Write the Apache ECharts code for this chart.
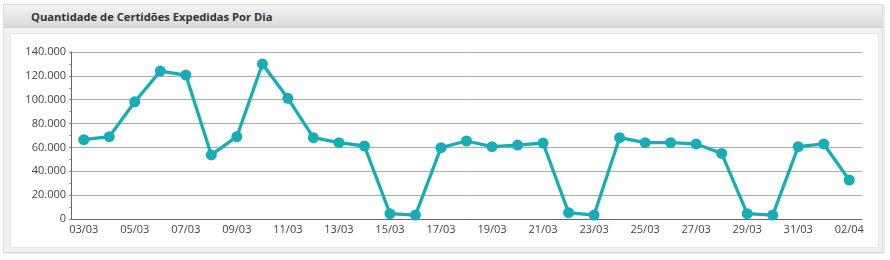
<!DOCTYPE html>
<html><head><meta charset="utf-8">
<script src="https://cdn.jsdelivr.net/npm/echarts@6/dist/echarts.min.js"></script>
<style>
html,body{margin:0;padding:0;background:#fff;}
#wrap{position:relative;width:890px;height:260px;overflow:hidden;background:#fff;}
#panel{position:absolute;left:3px;top:4px;width:880px;height:249px;background:#f1f1f1;border:1px solid #dcdcdc;box-sizing:border-box;box-shadow:2px 1px 0 #ececec;}
#header{position:absolute;left:4px;top:5px;width:878px;height:22px;background:linear-gradient(#f4f4f4,#d9d9d9);border-bottom:1px solid #d0d0d0;}
#title{position:absolute;left:31px;top:9px;font:bold 11.2px "Open Sans",sans-serif;color:#333;}
#inner{position:absolute;left:10px;top:33px;width:869px;height:215px;background:#fff;border:1px solid #e6e6e6;box-sizing:border-box;}
#chart{position:absolute;left:0;top:0;width:890px;height:260px;}
</style></head>
<body><div id="wrap">
<div id="panel"></div><div id="header"></div>
<div id="title">Quantidade de Certidões Expedidas Por Dia</div>
<div id="inner"></div>
<div id="chart"></div>
</div>
<script>
const categories = ['03/03','04/03','05/03','06/03','07/03','08/03','09/03','10/03','11/03','12/03','13/03','14/03','15/03','16/03','17/03','18/03','19/03','20/03','21/03','22/03','23/03','24/03','25/03','26/03','27/03','28/03','29/03','30/03','31/03','01/04','02/04'];
const values = [66500,69000,98300,124000,120700,53700,69000,130000,101200,68200,64000,61200,4500,3300,59800,65400,60600,62000,63700,5300,3300,68200,64000,64000,62900,55000,4500,3300,60600,62900,32700];
const yTicks = {min:0, max:140000, interval:20000};

const chart = echarts.init(document.getElementById('chart'), null, {renderer:'canvas'});
chart.setOption({
  animation:false,
  backgroundColor:'transparent',
  grid:{left:71, right:28, top:52, bottom:41},
  xAxis:{
    type:'category', data:categories, boundaryGap:true,
    axisLine:{lineStyle:{color:'#666',width:1}},
    axisTick:{show:false},
    axisLabel:{interval:1, color:'#444', fontFamily:'Open Sans', fontSize:11, margin:5}
  },
  yAxis:{
    type:'value', min:yTicks.min, max:yTicks.max, interval:yTicks.interval,
    axisLine:{show:true, lineStyle:{color:'#666',width:1}},
    axisTick:{show:true, length:2, lineStyle:{color:'#888'}},
    minorTick:{show:true, splitNumber:2, length:2, lineStyle:{color:'#999'}},
    splitLine:{lineStyle:{color:'#aaa',width:1}},
    axisLabel:{color:'#444', fontFamily:'Open Sans', fontSize:11, margin:5,
      formatter:v=>v===0?'0':v.toLocaleString('pt-BR').replace(/,/g,'.')}
  },
  series:[{
    type:'line', data:values, symbol:'circle', symbolSize:11,
    lineStyle:{color:'#17adb4', width:3.3},
    itemStyle:{color:'#17adb4'}
  }]
});
</script></body></html>
